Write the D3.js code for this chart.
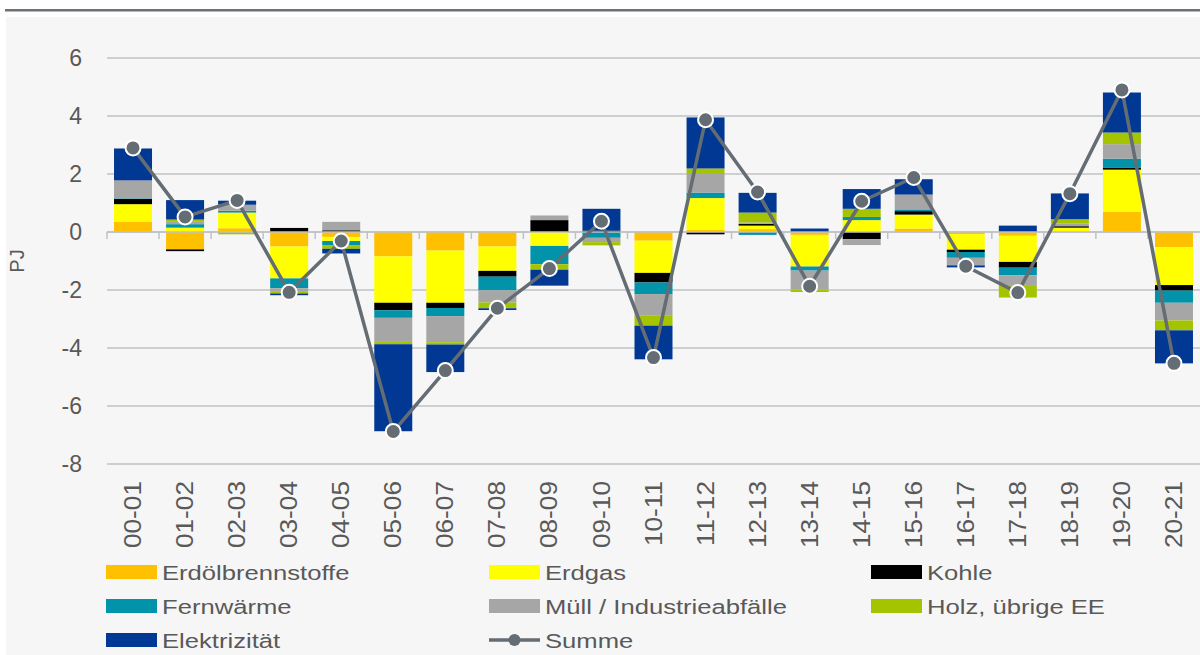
<!DOCTYPE html>
<html>
<head>
<meta charset="utf-8">
<script src="https://cdn.jsdelivr.net/npm/d3@7"></script>
<style>
  html, body { margin: 0; padding: 0; background: #ffffff; }
  svg { display: block; font-family: "Liberation Sans", Arial, sans-serif; }
</style>
</head>
<body>
<svg id="chart" width="1200" height="655"></svg>
<script>
// ---------- DATA ----------
const categories = ["00-01","01-02","02-03","03-04","04-05","05-06","06-07","07-08","08-09","09-10",
                    "10-11","11-12","12-13","13-14","14-15","15-16","16-17","17-18","18-19","19-20","20-21"];
const erdoel      = [0.36,-0.60, 0.13,-0.50,-0.17,-0.84,-0.64,-0.50, 0.00, 0.00,-0.30, 0.07, 0.10,-0.10, 0.00, 0.12,-0.07,-0.13, 0.00, 0.70,-0.52];
const erdgas      = [0.60, 0.15, 0.54,-1.10,-0.14,-1.60,-1.80,-0.84,-0.48, 0.00,-1.11, 1.10, 0.12,-1.09, 0.41, 0.48,-0.54,-0.90, 0.15, 1.45,-1.31];
const kohle       = [0.18,-0.06, 0.00, 0.14, 0.06,-0.26,-0.18,-0.20, 0.41, 0.05,-0.33,-0.08, 0.06, 0.03,-0.25, 0.12,-0.08,-0.20, 0.05, 0.06,-0.19];
const fernwaerme  = [0.02, 0.12, 0.06,-0.34,-0.14,-0.26,-0.28,-0.47,-0.63,-0.20,-0.40, 0.19,-0.10,-0.14, 0.11, 0.06,-0.20,-0.26, 0.00, 0.32,-0.42];
const muell       = [0.62, 0.08, 0.21,-0.10, 0.29,-0.83,-0.90,-0.42, 0.16,-0.15,-0.75, 0.64, 0.05,-0.65,-0.20, 0.51,-0.26,-0.37, 0.09, 0.50,-0.61];
const holz        = [0.00, 0.08,-0.08,-0.08,-0.13,-0.08,-0.08,-0.20,-0.19,-0.11,-0.34, 0.19, 0.34,-0.09, 0.28, 0.00, 0.00,-0.40, 0.15, 0.40,-0.34];
const elektrizitaet=[1.10, 0.67, 0.14,-0.06,-0.16,-3.00,-0.95,-0.06,-0.55, 0.75,-1.16, 1.76, 0.68, 0.09, 0.68, 0.53,-0.07, 0.22, 0.89, 1.38,-1.14];
const summe       = [2.90, 0.52, 1.09,-2.08,-0.31,-6.88,-4.78,-2.63,-1.26, 0.37,-4.33, 3.87, 1.38,-1.87, 1.06, 1.88,-1.18,-2.09, 1.32, 4.90,-4.53];
const yTicks = [-8,-6,-4,-2,0,2,4,6];

const seriesNames  = ["Erdölbrennstoffe","Erdgas","Kohle","Fernwärme","Müll / Industrieabfälle","Holz, übrige EE","Elektrizität"];
const seriesValues = [erdoel, erdgas, kohle, fernwaerme, muell, holz, elektrizitaet];
const seriesColors = ["#ffc000","#ffff00","#000000","#0093a9","#a6a6a6","#a5c400","#003893"];
const lineColor = "#646c74";

// ---------- LAYOUT ----------
const svg = d3.select("#chart");
const W = 1200, H = 655;
const plot = { left: 107, right: 1200, top: 58, bottom: 464 };

// background
svg.append("rect").attr("x", 0).attr("y", 0).attr("width", W).attr("height", H).attr("fill", "#ffffff");
svg.append("rect").attr("x", 6).attr("y", 17).attr("width", W - 6).attr("height", H - 17).attr("fill", "#f6f6f6");
svg.append("rect").attr("x", 5).attr("y", 9).attr("width", W - 5).attr("height", 2.5).attr("fill", "#6b7279");

const x = d3.scaleBand().domain(categories).range([plot.left, plot.right]).paddingInner(0.27).paddingOuter(0.135);
const y = d3.scaleLinear().domain([-8, 6]).range([plot.bottom, plot.top]);

// gridlines
svg.append("g").selectAll("line").data(yTicks).join("line")
  .attr("x1", plot.left).attr("x2", plot.right)
  .attr("y1", d => y(d)).attr("y2", d => y(d))
  .attr("stroke", "#bfc2c5").attr("stroke-width", 1.5);

// y tick labels
svg.append("g").selectAll("text").data(yTicks).join("text")
  .attr("x", 82).attr("y", d => y(d)).attr("dy", "0.35em")
  .attr("text-anchor", "end").attr("font-size", 23).attr("fill", "#595959")
  .text(d => d);

// axis title
svg.append("text")
  .attr("transform", "translate(17,261) rotate(-90)")
  .attr("text-anchor", "middle").attr("dy", "0.35em")
  .attr("font-size", 20).attr("fill", "#595959").text("PJ");

// stacked data
const table = categories.map((c, i) => {
  const o = { cat: c };
  seriesNames.forEach((n, k) => o[n] = seriesValues[k][i]);
  return o;
});
const stacked = d3.stack().keys(seriesNames).offset(d3.stackOffsetDiverging)(table);

const bars = svg.append("g");
stacked.forEach((s, k) => {
  bars.append("g").attr("fill", seriesColors[k])
    .selectAll("rect").data(s).join("rect")
    .attr("x", d => x(d.data.cat))
    .attr("width", x.bandwidth())
    .attr("y", d => y(Math.max(d[0], d[1])))
    .attr("height", d => Math.abs(y(d[0]) - y(d[1])));
});

// zero axis line with ticks
const zeroY = y(0);
svg.append("line").attr("x1", plot.left).attr("x2", plot.right)
  .attr("y1", zeroY).attr("y2", zeroY).attr("stroke", "#bfc2c5").attr("stroke-width", 1.5);
const step = x.step();
const boundaries = categories.map((c, i) => x(c) - x.bandwidth() * 0 - (step - x.bandwidth()) / 2);
svg.append("g").selectAll("line").data(boundaries).join("line")
  .attr("x1", d => d).attr("x2", d => d)
  .attr("y1", zeroY).attr("y2", zeroY + 7)
  .attr("stroke", "#bfc2c5").attr("stroke-width", 1.5);

// x labels
svg.append("g").selectAll("text").data(categories).join("text")
  .attr("transform", d => `translate(${x(d) + x.bandwidth() / 2},481) rotate(-90) scale(1.14,1)`)
  .attr("text-anchor", "end").attr("dy", "0.35em")
  .attr("font-size", 23).attr("fill", "#595959")
  .text(d => d);

// Summe line
const line = d3.line().x((d, i) => x(categories[i]) + x.bandwidth() / 2).y(d => y(d));
svg.append("path").datum(summe).attr("d", line)
  .attr("fill", "none").attr("stroke", lineColor).attr("stroke-width", 3.5).attr("stroke-linejoin", "round");
svg.append("g").selectAll("circle").data(summe).join("circle")
  .attr("cx", (d, i) => x(categories[i]) + x.bandwidth() / 2)
  .attr("cy", d => y(d)).attr("r", 7.5)
  .attr("fill", lineColor).attr("stroke", "#ffffff").attr("stroke-width", 2);

// legend
const legendItems = seriesNames.map((n, k) => ({ name: n, color: seriesColors[k], type: "rect" }))
  .concat([{ name: "Summe", color: lineColor, type: "line" }]);
const colX = [106, 489, 871];
const rowY = [572, 606, 640];
const lg = svg.append("g");
legendItems.forEach((it, i) => {
  const cx = colX[i % 3], cy = rowY[Math.floor(i / 3)];
  if (it.type === "rect") {
    lg.append("rect").attr("x", cx).attr("y", cy - 7).attr("width", 51).attr("height", 14).attr("fill", it.color);
  } else {
    lg.append("line").attr("x1", cx).attr("x2", cx + 51).attr("y1", cy).attr("y2", cy)
      .attr("stroke", it.color).attr("stroke-width", 3.5);
    lg.append("circle").attr("cx", cx + 25.5).attr("cy", cy).attr("r", 6).attr("fill", it.color);
  }
  lg.append("text")
    .attr("transform", `translate(${cx + 56},${cy + 7.5}) scale(1.25,1)`)
    .attr("font-size", 20.5).attr("fill", "#595959")
    .text(it.name);
});
</script>
</body>
</html>
